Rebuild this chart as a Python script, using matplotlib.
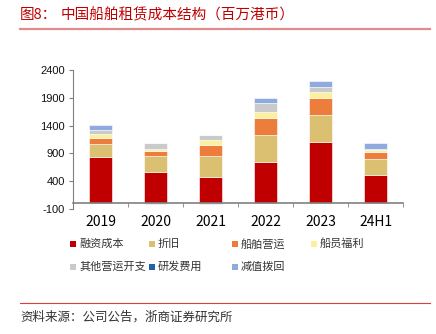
import matplotlib
matplotlib.use("Agg")
import matplotlib.pyplot as plt
from matplotlib.patches import Rectangle
from matplotlib.lines import Line2D
import numpy as np

plt.rcParams['font.family'] = ['Noto Sans CJK SC', 'DejaVu Sans']

categories = ["2019", "2020", "2021", "2022", "2023", "24H1"]
series_names = ["融资成本", "折旧", "船舶营运", "船员福利", "其他营运开支", "研发费用", "减值拨回"]
financing = [830, 571, 481, 751, 1100, 506]
depreciation = [245, 282, 378, 480, 497, 288]
ship_ops = [108, 96, 198, 301, 306, 137]
crew = [67, 25, 90, 119, 102, 36]
other_ops = [77, 108, 84, 156, 90, 8]
rnd = [0, 0, 0, 0, 0, 0]
impairment = [84, -15, -8, 90, 103, 112]
yticks = [-100, 400, 900, 1400, 1900, 2400]

colors = ["#c00000", "#dcc072", "#ed7d3a", "#fcf09c", "#cacaca", "#1f5fae", "#8faadc"]
series = [financing, depreciation, ship_ops, crew, other_ops, rnd, impairment]

fig = plt.figure(figsize=(4.36, 3.34), dpi=100)
ax = fig.add_axes([73/436, 1-209/334, 330/436, 139/334])

x = np.arange(len(categories))
pos_bottom = np.zeros(len(categories))
neg_bottom = np.zeros(len(categories))
for vals, c in zip(series, colors):
    v = np.array(vals, dtype=float)
    bottom = np.where(v >= 0, pos_bottom, neg_bottom)
    ax.bar(x, v, bottom=bottom, width=0.42, color=c, edgecolor="white", linewidth=0.4, zorder=2)
    pos_bottom += np.where(v >= 0, v, 0)
    neg_bottom += np.where(v < 0, v, 0)

ax.set_xlim(-0.5, len(categories) - 0.5)
ax.set_ylim(-100, 2400)
ax.set_yticks(yticks)
ax.set_yticklabels([str(t) for t in yticks], fontsize=8, family="Liberation Sans", color="#111111")
ax.set_xticks(x)
ax.set_xticklabels(categories, fontsize=8, family="Liberation Sans", color="#111111")
ax.set_xticks(np.arange(-0.5, len(categories)), minor=True)
ax.tick_params(axis="x", which="major", length=0, pad=8.5)
ax.tick_params(axis="x", which="minor", length=3, color="#808080", direction="out")
ax.tick_params(axis="y", length=3, color="#808080", direction="out", pad=3)

for s in ["top", "right"]:
    ax.spines[s].set_visible(False)
ax.spines["bottom"].set_position(("data", 0))
ax.spines["bottom"].set_color("#808080")
ax.spines["bottom"].set_linewidth(1.2)
ax.spines["left"].set_color("#808080")
ax.spines["left"].set_linewidth(0.8)
ax.spines["bottom"].set_zorder(3)

# Title and rules
fig.text(20/436, 1-15/334, "图8：", fontsize=10.5, color="#c00000", va="center", ha="left")
fig.text(61/436, 1-15/334, "中国船舶租赁成本结构（百万港币）", fontsize=10.5, color="#c00000",
         va="center", ha="left")
fig.add_artist(Line2D([20/436, 430/436], [1-29/334, 1-29/334], color="#e38a8a", linewidth=1.6))
fig.add_artist(Line2D([20/436, 430/436], [1-303/334, 1-303/334], color="#e03c3c", linewidth=0.8))
fig.text(20/436, 1-317/334, "资料来源：公司公告，浙商证券研究所", fontsize=9, color="#333333",
         va="center", ha="left")

# Legend (manual)
legend_pos = [(70, 244), (149, 244), (232, 244), (311, 244), (70, 267), (149, 267), (232, 267)]
for (px, py), name, c in zip(legend_pos, series_names, colors):
    fig.add_artist(Rectangle(((px) / 436, 1 - (py + 3) / 334), 6/436, 6/334,
                             facecolor=c, edgecolor="none", transform=fig.transFigure))
    fig.text((px + 9) / 436, 1 - py / 334, name, fontsize=8, color="#333333",
             va="center", ha="left")

fig.savefig("out.png", dpi=100)
